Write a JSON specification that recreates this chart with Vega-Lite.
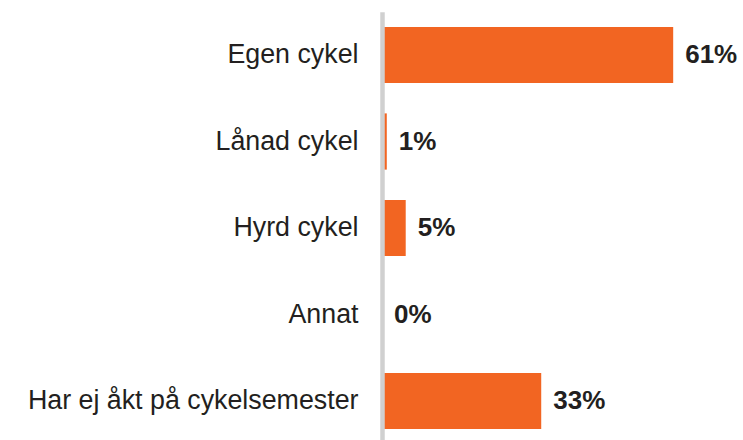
{
  "$schema": "https://vega.github.io/schema/vega-lite/v6.json",
  "autosize": "none",
  "width": 361,
  "height": 432.5,
  "padding": {"left": 382, "top": 11.75, "right": 0, "bottom": 0},
  "background": "white",
  "config": {
    "view": {"stroke": null},
    "font": "Liberation Sans"
  },
  "data": {
    "values": [
      {"category": "Egen cykel", "value": 60.9, "label": "61%"},
      {"category": "Lånad cykel", "value": 1.0, "label": "1%"},
      {"category": "Hyrd cykel", "value": 4.96, "label": "5%"},
      {"category": "Annat", "value": 0, "label": "0%"},
      {"category": "Har ej åkt på cykelsemester", "value": 33.3, "label": "33%"}
    ]
  },
  "encoding": {
    "y": {
      "field": "category",
      "type": "nominal",
      "sort": null,
      "scale": {"paddingInner": 0.35, "paddingOuter": 0.175},
      "axis": {
        "title": null,
        "ticks": false,
        "tickSize": 0,
        "labelPadding": 24,
        "labelFontSize": 26.8,
        "labelFont": "Liberation Sans",
        "labelColor": "#231f20",
        "labelLimit": 400,
        "labelBaseline": "middle",
        "domainColor": "#d0d0d0",
        "domainWidth": 4.5,
        "grid": false,
        "zindex": 1
      }
    },
    "x": {
      "field": "value",
      "type": "quantitative",
      "scale": {"domain": [0, 75.5], "nice": false},
      "axis": null
    }
  },
  "layer": [
    {"mark": {"type": "bar", "color": "#f26522"}},
    {
      "mark": {
        "type": "text",
        "align": "left",
        "baseline": "middle",
        "dx": 12,
        "font": "Liberation Sans",
        "fontSize": 26,
        "fontWeight": "bold",
        "color": "#231f20"
      },
      "encoding": {"text": {"field": "label"}}
    }
  ]
}
